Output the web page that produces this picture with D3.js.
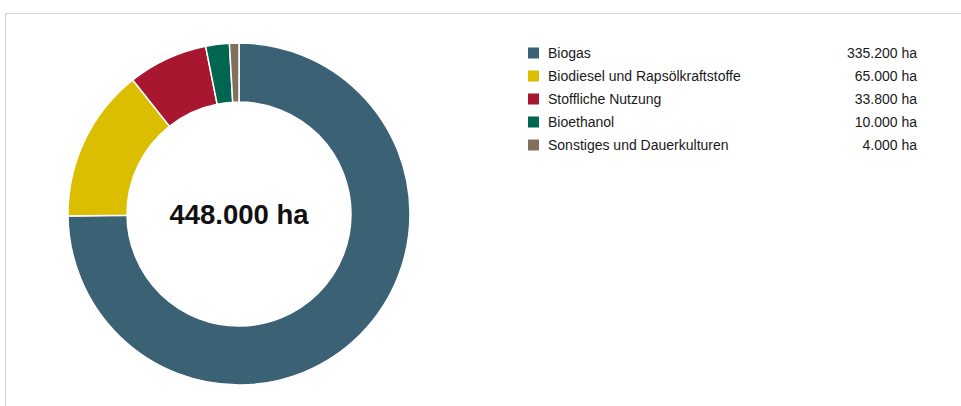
<!DOCTYPE html>
<html>
<head>
<meta charset="utf-8">
<script src="https://cdn.jsdelivr.net/npm/d3@7"></script>
<style>
  body { margin: 0; background: #fff; }
  svg { display: block; font-family: "Liberation Sans", Arial, sans-serif; }
</style>
</head>
<body>
<script>
// chart size
var width = 961,
    height = 406;

// data
var categories = ['Biogas', 'Biodiesel und Rapsölkraftstoffe', 'Stoffliche Nutzung', 'Bioethanol', 'Sonstiges und Dauerkulturen'];
var areas = [335200, 65000, 33800, 10000, 4000];
var valueLabels = ['335.200 ha', '65.000 ha', '33.800 ha', '10.000 ha', '4.000 ha'];
var totalLabel = '448.000 ha';
var colors = ['#3b6175', '#dcbe00', '#a8162f', '#00664f', '#83705c'];

var svg = d3.select('body')
  .append('svg')
  .attr('width', width)
  .attr('height', height);

// light frame around the chart (runs off right and bottom)
svg.append('rect')
  .attr('x', 5.5)
  .attr('y', 13.5)
  .attr('width', width)
  .attr('height', height)
  .attr('fill', 'none')
  .attr('stroke', '#d4d4d4');

var data = categories.map(function(c, i) {
  return { name: c, value: areas[i], label: valueLabels[i], color: colors[i] };
});

// donut
var cx = 239, cy = 214,
    outerR = 171, innerR = 112;

var pie = d3.pie()
  .sort(null)
  .value(function(d) { return d.value; });

var arc = d3.arc()
  .innerRadius(innerR)
  .outerRadius(outerR);

var g = svg.append('g')
  .attr('transform', 'translate(' + cx + ',' + cy + ')');

g.selectAll('path')
  .data(pie(data))
  .enter()
  .append('path')
  .attr('d', arc)
  .attr('fill', function(d) { return d.data.color; })
  .attr('stroke', '#fff')
  .attr('stroke-width', 1.5);

g.append('text')
  .attr('text-anchor', 'middle')
  .attr('y', 10)
  .attr('font-size', 27.5)
  .attr('font-weight', 'bold')
  .attr('fill', '#111')
  .text(totalLabel);

// legend
var legendY = d3.scaleBand()
  .domain(categories)
  .range([41, 156]);

var rows = svg.append('g')
  .selectAll('g')
  .data(data)
  .enter()
  .append('g')
  .attr('transform', function(d) { return 'translate(0,' + (legendY(d.name) + legendY.bandwidth() / 2) + ')'; });

rows.append('rect')
  .attr('x', 528)
  .attr('y', -5)
  .attr('width', 11)
  .attr('height', 11)
  .attr('fill', function(d) { return d.color; });

rows.append('text')
  .attr('x', 548)
  .attr('y', 5)
  .attr('font-size', 14)
  .attr('fill', '#1a1a1a')
  .text(function(d) { return d.name; });

rows.append('text')
  .attr('x', 917)
  .attr('y', 5)
  .attr('text-anchor', 'end')
  .attr('font-size', 14)
  .attr('fill', '#1a1a1a')
  .text(function(d) { return d.label; });
</script>
</body>
</html>
